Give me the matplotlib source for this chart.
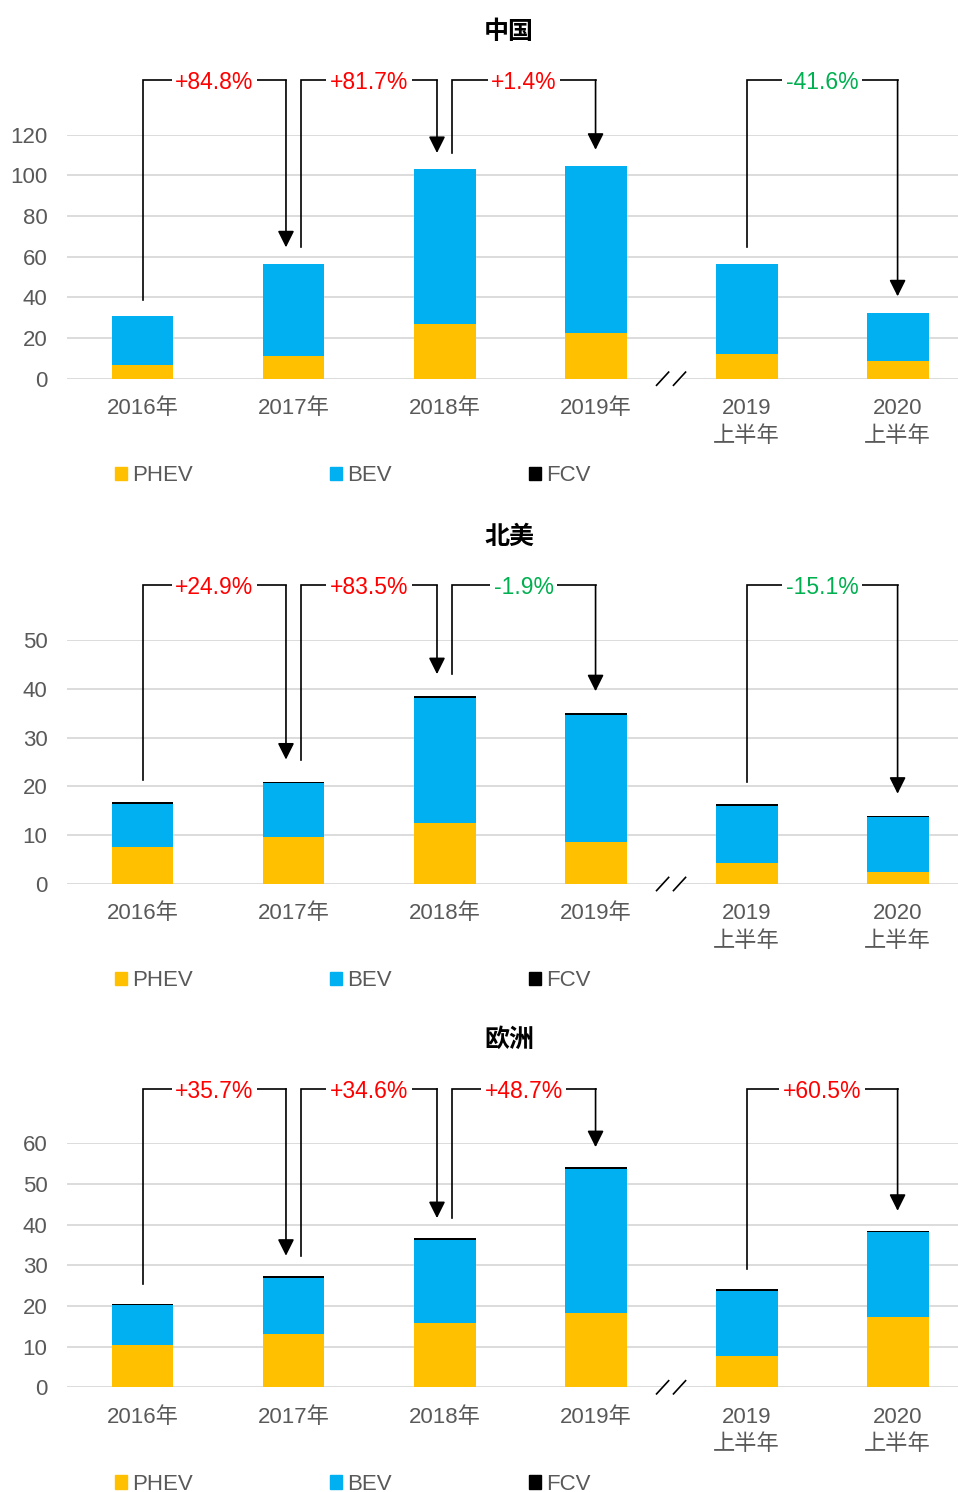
import matplotlib.pyplot as plt
from matplotlib.patches import Patch

plt.rcParams['font.family'] = ['Liberation Sans', 'Noto Sans CJK SC']

categories = ['2016年', '2017年', '2018年', '2019年', '2019\n上半年', '2020\n上半年']
regions = ['中国', '北美', '欧洲']

# 万辆
phev_cn = [6.5, 11.3, 27.1, 22.3, 12.3, 8.5]
bev_cn = [24.2, 45.3, 75.9, 82.3, 44.3, 24.0]
fcv_cn = [0, 0, 0, 0, 0, 0]

phev_na = [7.55, 9.55, 12.6, 8.7, 4.4, 2.5]
bev_na = [8.85, 11.15, 25.5, 25.9, 11.6, 11.2]
fcv_na = [0.4, 0.3, 0.4, 0.4, 0.4, 0.3]

phev_eu = [10.4, 13.2, 15.9, 18.3, 7.7, 17.4]
bev_eu = [9.75, 13.8, 20.3, 35.4, 16.05, 20.7]
fcv_eu = [0.35, 0.35, 0.4, 0.35, 0.35, 0.3]

growth_cn = ['+84.8%', '+81.7%', '+1.4%', '-41.6%']
growth_na = ['+24.9%', '+83.5%', '-1.9%', '-15.1%']
growth_eu = ['+35.7%', '+34.6%', '+48.7%', '+60.5%']

yticks_cn = [0, 20, 40, 60, 80, 100, 120]
yticks_na = [0, 10, 20, 30, 40, 50]
yticks_eu = [0, 10, 20, 30, 40, 50, 60]

pairs = [(0, 1), (1, 2), (2, 3), (4, 5)]

panels = [
    (regions[0], phev_cn, bev_cn, fcv_cn, growth_cn, yticks_cn, 8.0),
    (regions[1], phev_na, bev_na, fcv_na, growth_na, yticks_na, 4.5),
    (regions[2], phev_eu, bev_eu, fcv_eu, growth_eu, yticks_eu, 5.0),
]

W, H = 958, 1492
fig = plt.figure(figsize=(W / 100, H / 100), dpi=100)

ax_tops = [134.7, 640.0, 1143.3]
ax_h = 244.0
ax_left, ax_right = 67, 958

c_phev = '#FFC000'
c_bev = '#00B0F0'
c_fcv = '#000000'
grey = '#595959'

for (name, phev, bev, fcv, growth, yticks, off), top in zip(panels, ax_tops):
    ax = fig.add_axes([ax_left / W, 1 - (top + ax_h) / H, (ax_right - ax_left) / W, ax_h / H])
    x = list(range(len(categories)))
    base2 = [p + b for p, b in zip(phev, bev)]
    totals = [p + b + f for p, b, f in zip(phev, bev, fcv)]

    ax.bar(x, phev, width=0.41, color=c_phev, label='PHEV', zorder=2)
    ax.bar(x, bev, width=0.41, bottom=phev, color=c_bev, label='BEV', zorder=2)
    ax.bar(x, fcv, width=0.41, bottom=base2, color=c_fcv, label='FCV', zorder=2)

    ymax = yticks[-1]
    ax.set_ylim(0, ymax)
    ax.set_xlim(-0.5, 5.4)
    ax.set_yticks(yticks)
    ax.set_xticks(x)
    ax.set_xticklabels(categories)
    for lbl in ax.get_xticklabels():
        lbl.set_linespacing(1.4)
    ax.yaxis.grid(True, color='#D9D9D9', lw=1.3, zorder=0)
    ax.set_axisbelow(True)
    for s in ax.spines.values():
        s.set_visible(False)
    ax.tick_params(axis='y', length=0, pad=14, labelsize=16, labelcolor=grey)
    ax.tick_params(axis='x', length=0, pad=14, labelsize=16, labelcolor=grey)

    # axis break marks
    tr = ax.get_xaxis_transform()
    ax.plot([3.5 - 0.056, 3.5 + 0.056], [0, 0], color='white', lw=2.5, transform=tr,
            clip_on=False, zorder=3)
    for dx in (-0.056, 0.056):
        ax.plot([3.5 + dx - 0.04, 3.5 + dx + 0.04], [-0.027, 0.027], color='black',
                lw=1.2, transform=tr, clip_on=False, zorder=4)

    # growth brackets
    starts = [p[0] for p in pairs]
    ends = [p[1] for p in pairs]
    ytop = ymax * (1 + 54.5 / ax_h)
    for (i, j), lab in zip(pairs, growth):
        lx = i + 0.05 if i in ends else i
        rx = j - 0.05 if j in starts else j
        ax.plot([lx, lx, rx], [totals[i] + off, ytop, ytop], color='black', lw=1.2,
                clip_on=False, zorder=5, solid_joinstyle='miter')
        ax.annotate('', xy=(rx, totals[j] + off), xytext=(rx, ytop),
                    arrowprops=dict(arrowstyle='-|>,head_length=1.0,head_width=0.5',
                                    mutation_scale=10, color='black', lw=1.2,
                                    shrinkA=0, shrinkB=0),
                    annotation_clip=False, zorder=5)
        col = '#00B050' if lab.startswith('-') else '#FF0000'
        ax.text((lx + rx) / 2, ytop, lab, color=col, fontsize=16.5, ha='center',
                va='center_baseline',
                bbox=dict(facecolor='white', edgecolor='none', pad=2.5), zorder=6,
                clip_on=False)

    fig.text(509 / W, 1 - (top - 103) / H, name, fontsize=18, fontweight='bold',
             ha='center', va='center')

    handles = [Patch(color=c_phev), Patch(color=c_bev), Patch(color=c_fcv)]
    fig.legend(handles, ['PHEV', 'BEV', 'FCV'], loc='center left',
               bbox_to_anchor=(115 / W, 1 - (top + ax_h + 97) / H), ncol=3,
               frameon=False, fontsize=16, labelcolor=grey, handlelength=0.55,
               handleheight=0.55, handletextpad=0.2, columnspacing=6.2,
               borderpad=0, borderaxespad=0)

fig.savefig('out.png', dpi=100)
